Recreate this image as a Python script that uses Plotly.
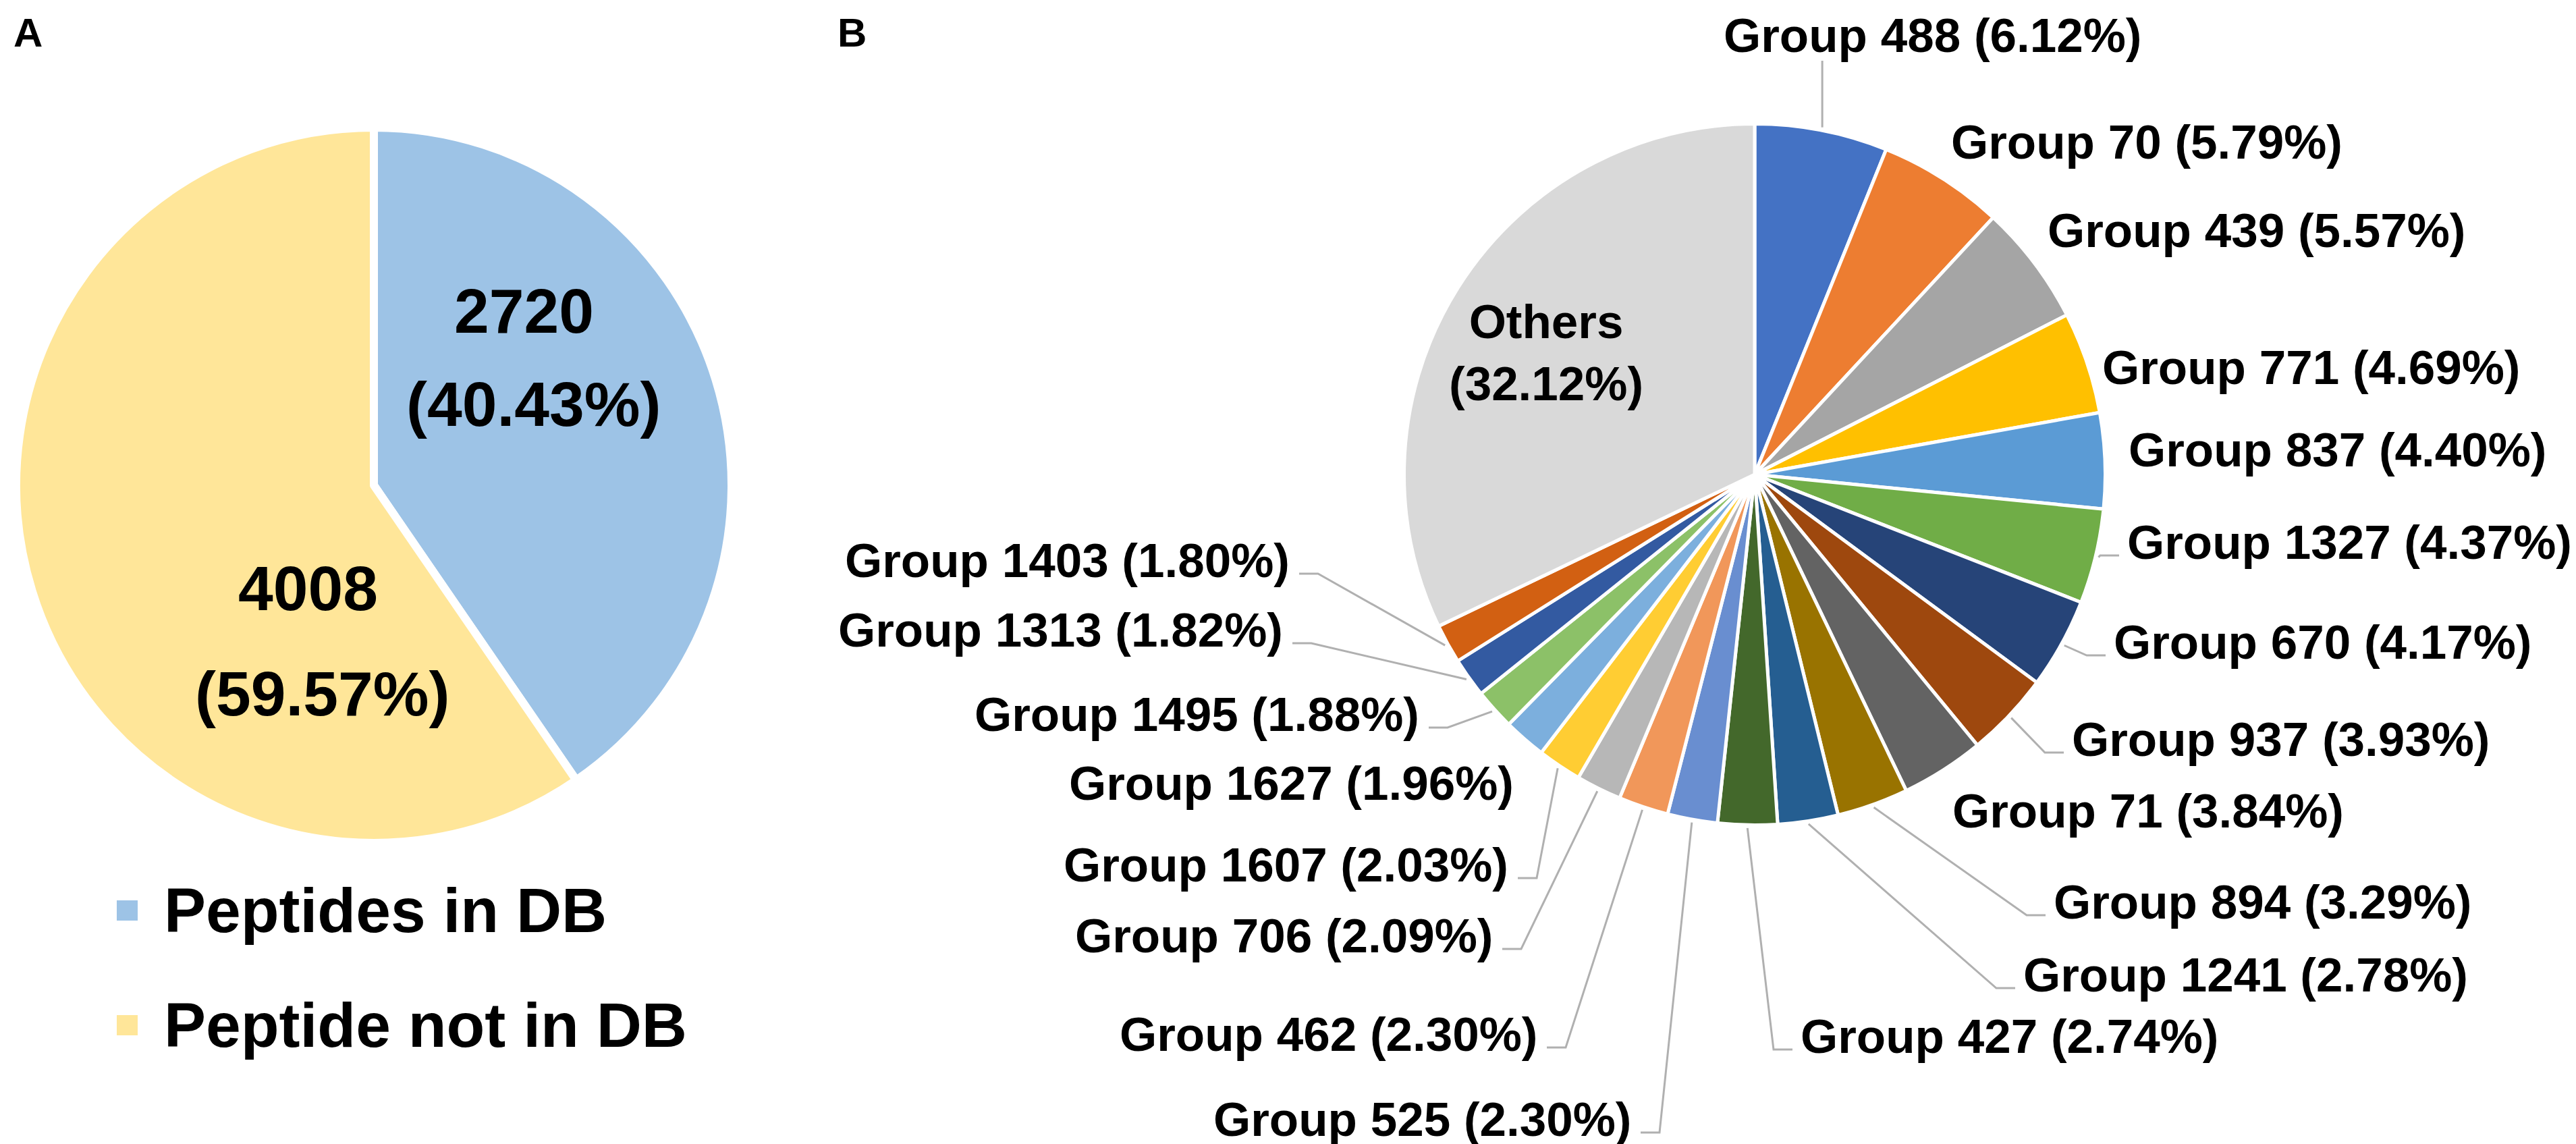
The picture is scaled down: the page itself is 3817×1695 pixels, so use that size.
import math
import plotly.graph_objects as go

# ---- data ----
pep_labels = ["Peptides in DB", "Peptide not in DB"]
pep_counts = [2720, 4008]
pep_pcts = [40.43, 59.57]
pep_colors = ["#9DC3E6", "#FFE699"]

group_names = ["Group 488", "Group 70", "Group 439", "Group 771", "Group 837",
               "Group 1327", "Group 670", "Group 937", "Group 71", "Group 894",
               "Group 1241", "Group 427", "Group 525", "Group 462", "Group 706",
               "Group 1607", "Group 1627", "Group 1495", "Group 1313", "Group 1403",
               "Others"]
group_pcts = [6.12, 5.79, 5.57, 4.69, 4.40, 4.37, 4.17, 3.93, 3.84, 3.29,
              2.78, 2.74, 2.30, 2.30, 2.09, 2.03, 1.96, 1.88, 1.82, 1.80, 32.12]
group_colors = ["#4472C4", "#ED7D31", "#A5A5A5", "#FFC000", "#5B9BD5",
                "#70AD47", "#264478", "#9E480E", "#636363", "#997300",
                "#255E91", "#43682B", "#698ED0", "#F1975A", "#B7B7B7",
                "#FFCD33", "#7CAFDD", "#8CC168", "#335AA1", "#D26012",
                "#D9D9D9"]

# ---- layout (pixels on a 3817 x 1695 canvas) ----
W, H = 3817, 1695
FONT = "Liberation Sans, Arial, sans-serif"
A_CX, A_CY, A_R, A_LINE = 546, 711, 524, 12
B_CX, B_CY, B_R, B_LINE = 2592, 695, 517, 5

# label placement for panel B: x, y (cap centre), side, leader line
b_label_pos = [
    (2855, 44, "c", True), (2881, 203, "l", False), (3024, 333, "l", False),
    (3105, 536, "l", False), (3144, 658, "l", False), (3142, 795, "l", True),
    (3122, 943, "l", True), (3060, 1087, "l", True), (2883, 1193, "l", False),
    (3033, 1328, "l", True), (2988, 1436, "l", True), (2658, 1527, "l", True),
    (2411, 1650, "r", True), (2272, 1524, "r", True), (2206, 1378, "r", True),
    (2229, 1273, "r", True), (2237, 1152, "r", False), (2097, 1050, "r", True),
    (1895, 925, "r", True), (1905, 822, "r", True),
]
others_pos = (2283, 515)
a_label_pos = [((768, 453), (782, 591)), ((448, 864), (469, 1020))]


def px(x):
    return x / W


def py(y):
    return 1 - y / H


def domain(cx, cy, r):
    return dict(x=[px(cx - r), px(cx + r)], y=[py(cy + r), py(cy - r)])


fig = go.Figure()

fig.add_trace(go.Pie(
    labels=pep_labels, values=pep_counts, sort=False, direction="clockwise",
    rotation=0, textinfo="none", hoverinfo="label+value+percent",
    marker=dict(colors=pep_colors, line=dict(color="white", width=A_LINE)),
    domain=domain(A_CX, A_CY, A_R + A_LINE / 2), showlegend=False,
))

fig.add_trace(go.Pie(
    labels=group_names, values=group_pcts, sort=False, direction="clockwise",
    rotation=0, textinfo="none", hoverinfo="label+value",
    marker=dict(colors=group_colors, line=dict(color="white", width=B_LINE)),
    domain=domain(B_CX, B_CY, B_R + B_LINE / 2), showlegend=False,
))

annotations = []
shapes = []


def add_text(x, y, text, size, xanchor="center"):
    annotations.append(dict(
        x=px(x), y=py(y), xref="paper", yref="paper", text=text,
        showarrow=False, xanchor=xanchor, yanchor="middle",
        font=dict(family=FONT, size=size, color="black", weight="bold"),
    ))


# panel letters
add_text(33, 40, "A", 60)
add_text(1254, 40, "B", 60)

# panel A labels
for (p1, p2), n, pct in zip(a_label_pos, pep_counts, pep_pcts):
    add_text(p1[0], p1[1], f"{n}", 93)
    add_text(p2[0], p2[1], f"({pct:.2f}%)", 93)

# panel A legend
for i, (name, col) in enumerate(zip(pep_labels, pep_colors)):
    ly = 1341 + i * 170
    shapes.append(dict(type="rect", xref="paper", yref="paper",
                       x0=px(165), x1=px(196), y0=py(ly + 15), y1=py(ly - 15),
                       fillcolor=col, line=dict(width=0)))
    add_text(233, ly, name, 93, xanchor="left")

# panel B labels and leader lines
total = sum(group_pcts)
cum = 0.0
for name, pct, pos in zip(group_names[:-1], group_pcts[:-1], b_label_pos):
    mid = (cum + pct / 2) / total * 2 * math.pi
    cum += pct
    x, y, side, leader = pos
    text = f"{name} ({pct:.2f}%)"
    anchor = {"l": "left", "r": "right", "c": "center"}[side]
    add_text(x, y, text, 71, xanchor=anchor)
    if not leader:
        continue
    sx = B_CX + (B_R + 7) * math.sin(mid)
    sy = B_CY - (B_R + 7) * math.cos(mid)
    if side == "c":
        pts = [(sx, sy), (sx, y + 38)]
    elif side == "l":
        pts = [(sx, sy), (x - 38, y + 20), (x - 10, y + 20)]
    else:
        pts = [(sx, sy), (x + 40, y + 20), (x + 12, y + 20)]
    path = "M " + " L ".join(f"{px(a):.5f},{py(b):.5f}" for a, b in pts)
    shapes.append(dict(type="path", xref="paper", yref="paper", path=path,
                       line=dict(color="#B0B0B0", width=3)))

add_text(others_pos[0], others_pos[1],
         f"{group_names[-1]}<br>({group_pcts[-1]:.2f}%)", 71)

fig.update_layout(
    width=W, height=H,
    margin=dict(l=0, r=0, t=0, b=0),
    paper_bgcolor="white", plot_bgcolor="white",
    showlegend=False,
    annotations=annotations,
    shapes=shapes,
)

fig.write_html("out.html")
